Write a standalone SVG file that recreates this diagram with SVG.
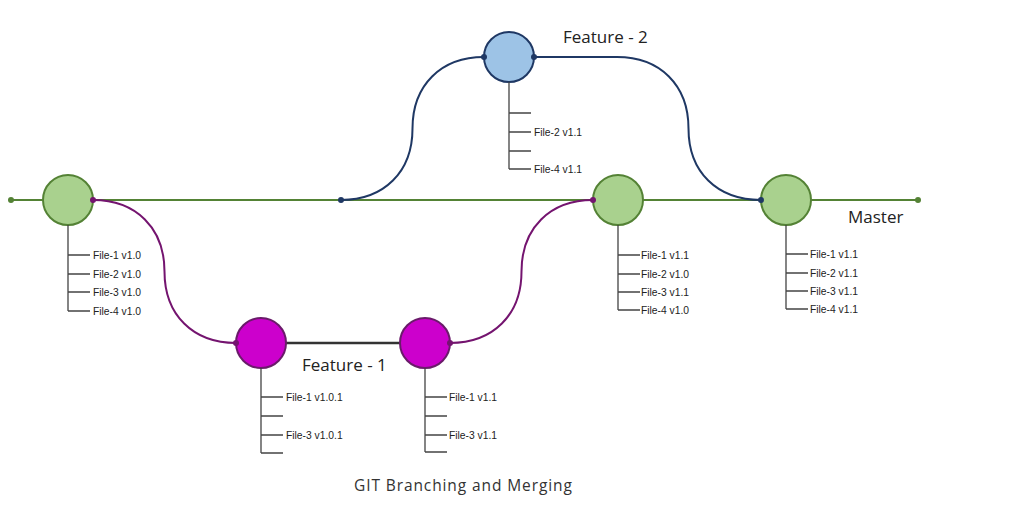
<svg xmlns="http://www.w3.org/2000/svg" width="1027" height="520" viewBox="0 0 1027 520">
<style>
.master{fill:#a9d18e;stroke:#548235;stroke-width:2}
.f1{fill:#cc00cc;stroke:#6a1b6a;stroke-width:2}
.f2{fill:#9dc3e6;stroke:#1f3864;stroke-width:2}
.tree{stroke:#444;stroke-width:1.3;fill:none}
.ft{font-family:"Liberation Sans",Arial,sans-serif;font-size:10.3px;fill:#222}
.lbl{font-family:"Open Sans","DejaVu Sans",sans-serif;font-size:17px;fill:#222}
.cap{font-family:"Open Sans","DejaVu Sans",sans-serif;font-size:15.5px;fill:#333;letter-spacing:0.9px}
.pc{stroke:#74146f;stroke-width:2;fill:none}
.bc{stroke:#1f3864;stroke-width:2;fill:none}
</style>
<rect width="1027" height="520" fill="#ffffff"/>
<g id="connectors">
<line x1="11" y1="200" x2="918" y2="200" stroke="#548235" stroke-width="2"/>
<circle cx="11" cy="200" r="3" fill="#548235"/>
<circle cx="918" cy="200" r="3" fill="#548235"/>
<path class="pc" d="M93,200 C136,200 164.5,228 164.5,271.5 C164.5,315 193,343 236,343"/>
<path class="pc" d="M450,343 C493,343 521.5,315 521.5,271.5 C521.5,228 550,200 593,200"/>
<line x1="286" y1="343" x2="400" y2="343" stroke="#333" stroke-width="2.5"/>
<path class="bc" d="M341,200 C384,200 412.5,172 412.5,128.5 C412.5,85 441,57 484,57"/>
<path class="bc" d="M534,57 L617,57 C660,57 688.5,85 688.5,128.5 C688.5,172 717,200 761,200"/>
</g>
<g id="node-m1">
<circle class="master" cx="68" cy="200" r="25"/>
<path class="tree" d="M68,225 V311 M68,255 H90 M68,274 H90 M68,292 H90 M68,311 H90"/>
<text class="ft" x="93" y="259">File-1 v1.0</text>
<text class="ft" x="93" y="278">File-2 v1.0</text>
<text class="ft" x="93" y="296">File-3 v1.0</text>
<text class="ft" x="93" y="315">File-4 v1.0</text>
</g>
<g id="node-m2">
<circle class="master" cx="618" cy="200" r="25"/>
<path class="tree" d="M618,225 V310 M618,255 H640 M618,274 H640 M618,292 H640 M618,310 H640"/>
<text class="ft" x="641" y="259">File-1 v1.1</text>
<text class="ft" x="641" y="278">File-2 v1.0</text>
<text class="ft" x="641" y="296">File-3 v1.1</text>
<text class="ft" x="641" y="314">File-4 v1.0</text>
</g>
<g id="node-m3">
<circle class="master" cx="786" cy="200" r="25"/>
<path class="tree" d="M786,225 V309 M786,254 H808 M786,273 H808 M786,291 H808 M786,309 H808"/>
<text class="ft" x="810" y="258">File-1 v1.1</text>
<text class="ft" x="810" y="277">File-2 v1.1</text>
<text class="ft" x="810" y="295">File-3 v1.1</text>
<text class="ft" x="810" y="313">File-4 v1.1</text>
<text class="lbl" x="848" y="223">Master</text>
</g>
<g id="node-f2">
<circle class="f2" cx="509" cy="57" r="25"/>
<path class="tree" d="M509,82 V169 M509,113 H531 M509,132 H531 M509,151 H531 M509,169 H531"/>
<text class="ft" x="534" y="136">File-2 v1.1</text>
<text class="ft" x="534" y="173">File-4 v1.1</text>
<text class="lbl" x="563" y="43">Feature - 2</text>
</g>
<g id="node-f1a">
<circle class="f1" cx="261" cy="343" r="25"/>
<path class="tree" d="M261,368 V453 M261,397 H283 M261,416 H283 M261,435 H283 M261,453 H283"/>
<text class="ft" x="286" y="401">File-1 v1.0.1</text>
<text class="ft" x="286" y="439">File-3 v1.0.1</text>
</g>
<g id="node-f1b">
<circle class="f1" cx="425" cy="343" r="25"/>
<path class="tree" d="M425,368 V452 M425,397 H447 M425,416 H447 M425,435 H447 M425,452 H447"/>
<text class="ft" x="449" y="401">File-1 v1.1</text>
<text class="ft" x="449" y="439">File-3 v1.1</text>
<text class="lbl" x="302" y="371">Feature - 1</text>
</g>
<g id="dots">
<circle cx="93" cy="200" r="3" fill="#74146f"/>
<circle cx="236" cy="343" r="3" fill="#74146f"/>
<circle cx="450" cy="343" r="3" fill="#74146f"/>
<circle cx="593" cy="200" r="3" fill="#74146f"/>
<circle cx="341" cy="200" r="3" fill="#1f3864"/>
<circle cx="484" cy="57" r="3" fill="#1f3864"/>
<circle cx="534" cy="57" r="3" fill="#1f3864"/>
<circle cx="761" cy="200" r="3" fill="#1f3864"/>
</g>
<text class="cap" x="354" y="491">GIT Branching and Merging</text>
</svg>
